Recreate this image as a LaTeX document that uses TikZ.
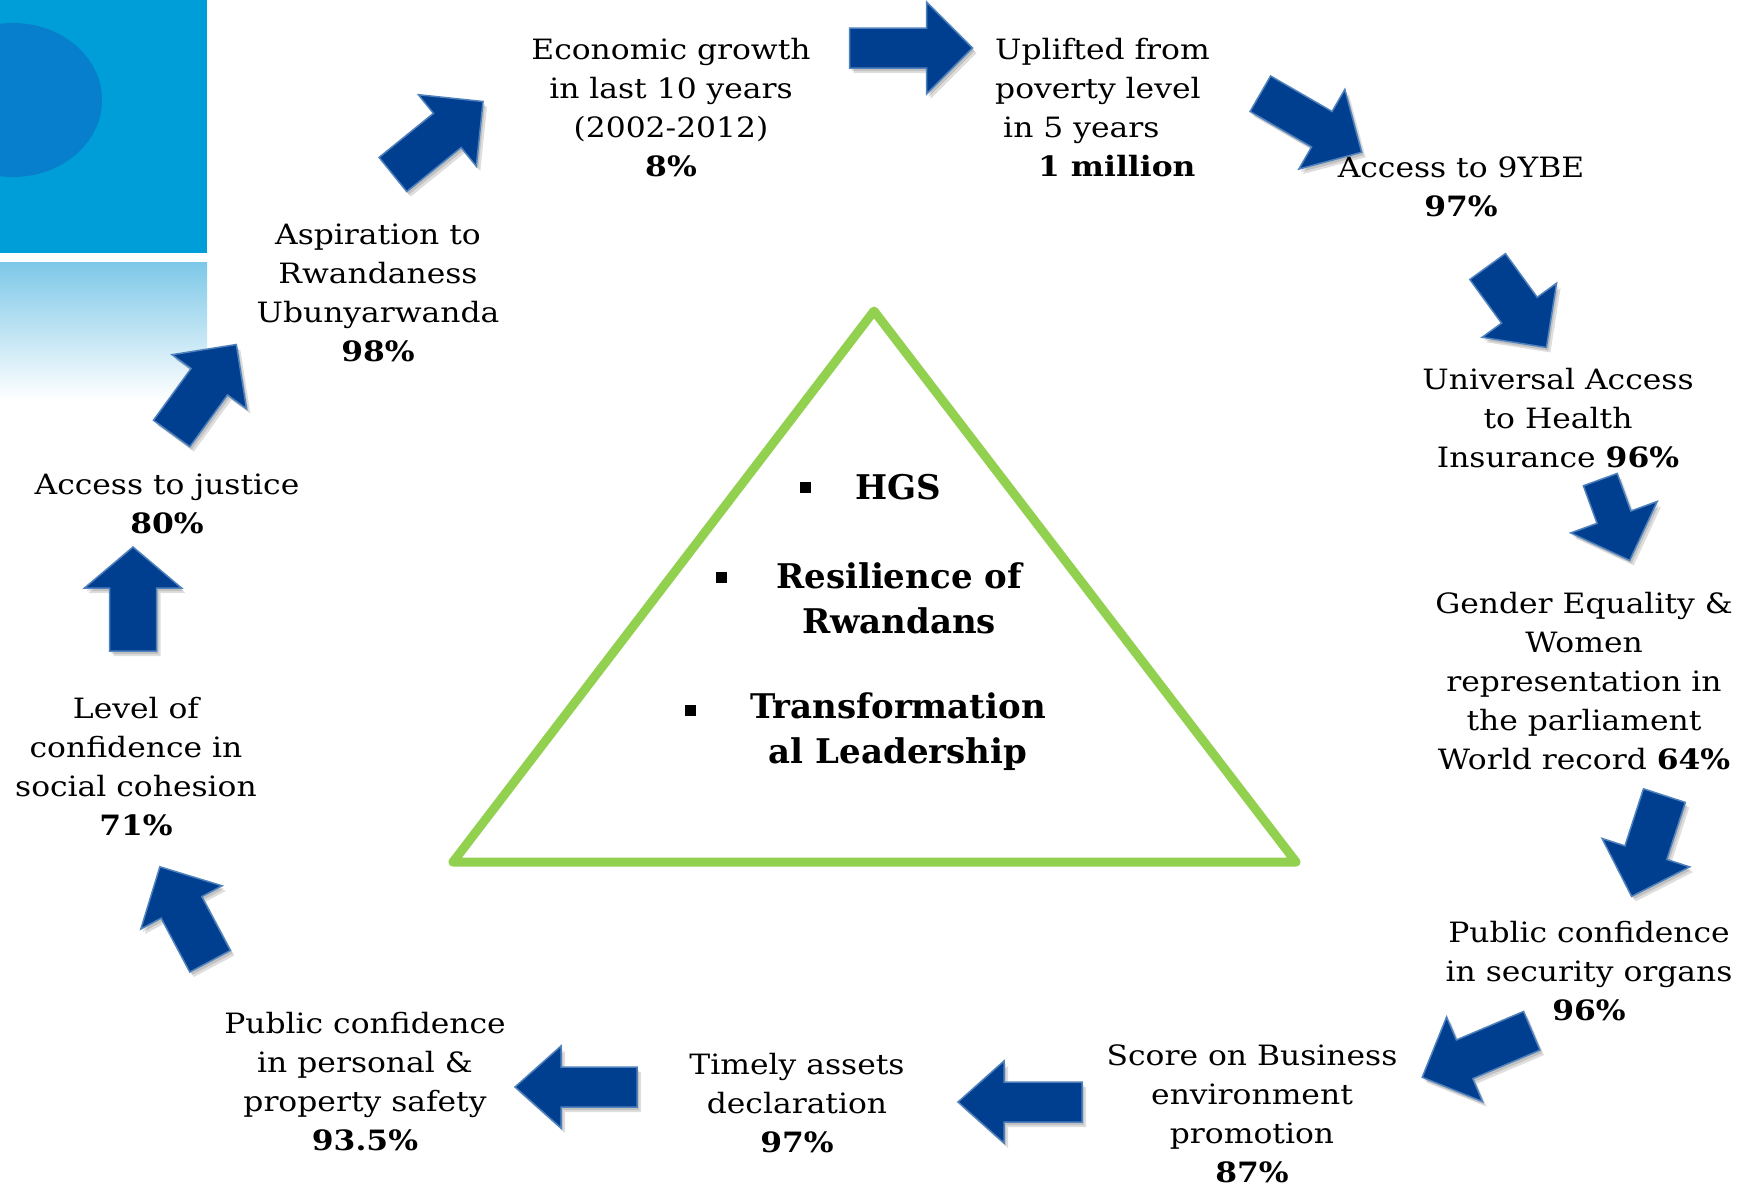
\documentclass[tikz,border=0pt]{standalone}
\usepackage{fontspec}
\setmainfont{DejaVu Serif}[FakeStretch=1.12]
\newfontfamily\corefont{DejaVu Serif}
\definecolor{arrowfill}{RGB}{0,63,143}
\definecolor{arrowedge}{RGB}{79,129,189}
\definecolor{trianglegreen}{RGB}{146,208,80}
\definecolor{tileblue}{RGB}{0,158,216}
\definecolor{tiledisc}{RGB}{8,127,205}
\definecolor{tilefade}{RGB}{125,200,232}

\begin{document}
\begin{tikzpicture}[x=1pt,y=-1pt,
  label/.style={align=center, font=\fontsize{28}{39}\selectfont, inner sep=0pt},
  leftlabel/.style={label, align=left, anchor=west},
  core/.style={align=center, font=\corefont\fontsize{34}{45}\selectfont\bfseries, inner sep=0pt},
  bullet/.style={fill=black, minimum size=11pt, inner sep=0pt},
  arrowbody/.style={fill=arrowfill, draw=arrowedge, line width=1.5pt, line join=miter},
  arrowshadow/.style={fill=black, opacity=0.13},
  barrow angle/.store in=\barrowangle, barrow angle=0,
  barrow len/.store in=\barrowlen, barrow len=120,
  barrow shaft/.store in=\barrowshaft, barrow shaft=44,
  barrow head/.store in=\barrowhead, barrow head=92,
  barrow tip/.store in=\barrowtip, barrow tip=46,
  barrow/.pic={
    % soft drop shadow, offset down and to the right on the page
    \foreach \dx/\dy in {2/3,4/5}{
      \path[arrowshadow, shift={(\dx,\dy)}, rotate=\barrowangle]
        (-\barrowlen/2,-\barrowshaft/2) -- (\barrowlen/2-\barrowtip,-\barrowshaft/2)
        -- (\barrowlen/2-\barrowtip,-\barrowhead/2) -- (\barrowlen/2,0)
        -- (\barrowlen/2-\barrowtip,\barrowhead/2) -- (\barrowlen/2-\barrowtip,\barrowshaft/2)
        -- (-\barrowlen/2,\barrowshaft/2) -- cycle;
    }
    \path[arrowbody, rotate=\barrowangle]
      (-\barrowlen/2,-\barrowshaft/2) -- (\barrowlen/2-\barrowtip,-\barrowshaft/2)
      -- (\barrowlen/2-\barrowtip,-\barrowhead/2) -- (\barrowlen/2,0)
      -- (\barrowlen/2-\barrowtip,\barrowhead/2) -- (\barrowlen/2-\barrowtip,\barrowshaft/2)
      -- (-\barrowlen/2,\barrowshaft/2) -- cycle;
  }
]
\useasboundingbox (0,0) rectangle (1744,1186);
\fill[white] (0,0) rectangle (1744,1186);

% corner tiles
\begin{scope}
  \clip (0,0) rectangle (207,253);
  \fill[tileblue] (0,0) rectangle (207,253);
  \fill[tiledisc] (13,100) ellipse [x radius=89, y radius=77];
\end{scope}
\shade[top color=tilefade, bottom color=white] (0,262) rectangle (207,400);

% central triangle
\draw[trianglegreen, line width=9pt, line join=round, line cap=round]
  (874,311) -- (1296,862) -- (453,862) -- cycle;

\node[bullet] (b1) at (805,487) {};
\node[bullet] (b2) at (721,577) {};
\node[bullet] (b3) at (690,710) {};
\node[core] (hgs) at (898,487) {HGS};
\node[core] (res) at (899,598) {Resilience of\\Rwandans};
\node[core] (tra) at (898,732) {Transformation\\al Leadership};

% outcome labels around the cycle
\node[label] (econ) at (671,108) {Economic growth\\in last 10 years\\(2002-2012)\\\textbf{8\%}};
\node[leftlabel] (uplift) at (995,108) {Uplifted from\\poverty level\\\hspace*{8pt}in 5 years\\\hspace*{43pt}\textbf{1 million}};
\node[label] (ybe) at (1461,187) {Access to 9YBE\\\textbf{97\%}};
\node[label] (health) at (1558,418) {Universal Access\\to Health\\Insurance \textbf{96\%}};
\node[label] (gender) at (1584,681) {Gender Equality \&\\Women\\representation in\\the parliament\\World record \textbf{64\%}};
\node[label] (security) at (1589,971) {Public confidence\\in security organs\\\textbf{96\%}};
\node[label] (business) at (1252,1114) {Score on Business\\environment\\promotion\\\textbf{87\%}};
\node[label] (assets) at (797,1103) {Timely assets\\declaration\\\textbf{97\%}};
\node[label] (safety) at (365,1082) {Public confidence\\in personal \&\\property safety\\\textbf{93.5\%}};
\node[label] (cohesion) at (136,767) {Level of\\confidence in\\social cohesion\\\textbf{71\%}};
\node[label] (justice) at (167,504) {Access to justice\\\textbf{80\%}};
\node[label] (aspire) at (378,293) {Aspiration to\\Rwandaness\\Ubunyarwanda\\\textbf{98\%}};

% block arrows linking the outcomes
\pic[barrow angle=39, barrow len=116] (a1) at (438,138) {barrow};
\pic[barrow angle=0, barrow len=123, barrow shaft=40] (a2) at (911,48) {barrow};
\pic[barrow angle=-30, barrow len=117, barrow shaft=41] (a3) at (1311,123) {barrow};
\pic[barrow angle=-54, barrow len=100] (a4) at (1517,307) {barrow};
\pic[barrow angle=-70, barrow len=86, barrow shaft=36] (a5) at (1615,520) {barrow};
\pic[barrow angle=-108, barrow len=106] (a6) at (1648,846) {barrow};
\pic[barrow angle=203, barrow len=119, barrow shaft=42] (a7) at (1477,1054) {barrow};
\pic[barrow angle=180, barrow len=124, barrow shaft=40, barrow head=82] (a8) at (1020,1102) {barrow};
\pic[barrow angle=180, barrow len=122, barrow shaft=40, barrow head=82] (a9) at (576,1087) {barrow};
\pic[barrow angle=118, barrow len=107, barrow shaft=46] (a10) at (185,914) {barrow};
\pic[barrow angle=90, barrow len=104, barrow shaft=47, barrow head=97, barrow tip=41] (a11) at (133,599) {barrow};
\pic[barrow angle=54, barrow len=110, barrow shaft=45] (a12) at (204,389) {barrow};
\end{tikzpicture}
\end{document}
